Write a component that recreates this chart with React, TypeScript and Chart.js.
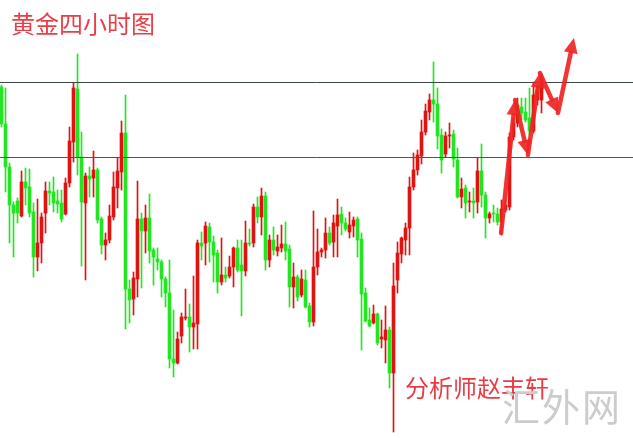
import React, { useEffect, useRef } from "react";
import { Chart, registerables } from "chart.js";

Chart.register(...registerables);

// Gold 4-hour candles (price units; the vertical axis is hidden)
const candleOpen = [
  351, 314, 271, 233, 237, 222, 256, 251, 226, 181,
  195, 225, 247, 246, 237, 235, 224, 255, 296, 349,
  281, 235, 262, 260, 268, 219, 193, 198, 221, 250,
  266, 305, 149, 139, 159, 219, 207, 220, 188, 179,
  176, 159, 145, 79, 75, 102, 120, 121, 111, 114,
  195, 195, 211, 196, 185, 156, 163, 162, 171, 190,
  173, 167, 195, 195, 231, 221, 242, 178, 198, 187,
  190, 194, 189, 151, 161, 143, 158, 132, 116, 171,
  186, 188, 205, 196, 212, 224, 215, 206, 212, 219,
  199, 145, 118, 115, 124, 99, 98, 108, 65, 158,
  184, 198, 210, 251, 268, 282, 306, 326, 338, 334,
  303, 284, 302, 304, 278, 241, 250, 236, 237, 236,
  267, 243, 220, 225, 224, 216, 228, 231, 301, 315,
  331, 326, 320, 307, 338, 338,
];
const candleHigh = [
  353, 350, 275, 236, 240, 267, 270, 269, 235, 239,
  225, 256, 256, 261, 248, 248, 260, 311, 355, 384,
  306, 265, 271, 287, 270, 221, 205, 233, 266, 280,
  317, 343, 158, 166, 257, 225, 233, 244, 190, 190,
  178, 161, 178, 128, 106, 125, 149, 134, 162, 198,
  206, 216, 215, 202, 188, 200, 171, 182, 191, 198,
  198, 217, 209, 234, 241, 250, 246, 203, 211, 203,
  213, 216, 193, 175, 163, 168, 168, 135, 227, 209,
  190, 220, 211, 223, 239, 231, 220, 226, 221, 221,
  205, 150, 130, 133, 125, 118, 132, 111, 175, 196,
  201, 215, 261, 285, 288, 318, 334, 344, 376, 350,
  309, 306, 315, 308, 290, 260, 253, 246, 250, 280,
  294, 246, 226, 233, 230, 238, 238, 305, 320, 340,
  340, 340, 350, 356, 353, 364,
];
const candleLow = [
  311, 246, 195, 181, 215, 221, 233, 221, 161, 167,
  175, 205, 233, 226, 225, 216, 223, 251, 276, 263,
  172, 158, 241, 241, 215, 184, 178, 195, 218, 230,
  248, 109, 115, 123, 141, 150, 185, 175, 153, 168,
  141, 131, 70, 61, 74, 95, 118, 86, 89, 89,
  178, 173, 176, 156, 145, 153, 156, 160, 151, 166,
  122, 162, 192, 191, 215, 203, 168, 171, 183, 182,
  186, 178, 131, 130, 137, 141, 130, 111, 112, 163,
  181, 180, 193, 181, 181, 203, 207, 200, 201, 181,
  88, 116, 111, 114, 93, 90, 75, 50, 6, 145,
  175, 183, 183, 248, 263, 274, 303, 318, 316, 289,
  265, 281, 290, 271, 240, 230, 220, 226, 220, 225,
  231, 200, 215, 216, 213, 203, 226, 228, 298, 311,
  318, 316, 303, 305, 333, 325,
];
const candleClose = [
  314, 271, 233, 225, 225, 256, 250, 225, 181, 195,
  221, 247, 245, 235, 234, 219, 255, 297, 350, 281,
  236, 262, 259, 268, 218, 193, 198, 222, 251, 267,
  305, 149, 138, 160, 219, 207, 220, 187, 181, 176,
  159, 145, 79, 75, 99, 121, 121, 111, 115, 195,
  192, 212, 196, 183, 156, 163, 160, 171, 190, 168,
  167, 195, 194, 231, 221, 242, 178, 198, 188, 191,
  194, 187, 151, 161, 141, 159, 131, 116, 171, 186,
  188, 205, 195, 215, 223, 215, 209, 213, 218, 198,
  144, 117, 112, 124, 95, 101, 108, 65, 152, 185,
  200, 210, 251, 268, 283, 306, 327, 338, 334, 302,
  278, 302, 303, 279, 241, 249, 235, 237, 235, 267,
  243, 220, 224, 224, 216, 229, 233, 301, 315, 333,
  325, 318, 307, 343, 348, 360,
];

// Horizontal levels (resistance above, support below)
const levelValues = [356, 281];
const levelColors = ["#3b4846", "#d41c1c"];

// Forecast zig-zag arrow path (bar position, price)
const arrowX = [124.9, 128.4, 131.6, 134.6, 139.1, 143.1];
const arrowY = [205, 338, 283, 365, 325, 400];

const titleText = "黄金四小时图";
const analystText = "分析师赵丰轩";
const watermarkText = "汇外网";

const UP = "#e01212";
const DOWN = "#22e622";

export default function App() {
  const ref = useRef<HTMLCanvasElement | null>(null);

  useEffect(() => {
    if (!ref.current) return;
    const idx = candleOpen.map((_, i) => i);
    const colors = idx.map((i) => (candleClose[i] >= candleOpen[i] ? UP : DOWN));

    const overlay = {
      id: "overlay",
      afterDatasetsDraw(chart: any) {
        const ctx = chart.ctx;
        const xs = chart.scales.x;
        const ys = chart.scales.y;
        const area = chart.chartArea;
        ctx.save();
        levelValues.forEach((v, k) => {
          const py = Math.round(ys.getPixelForValue(v)) + 0.5;
          ctx.strokeStyle = levelColors[k];
          ctx.lineWidth = 1;
          ctx.beginPath();
          ctx.moveTo(area.left, py);
          ctx.lineTo(area.right, py);
          ctx.stroke();
        });
        ctx.strokeStyle = "rgba(240,36,36,0.92)";
        ctx.fillStyle = "rgba(240,36,36,0.92)";
        ctx.lineWidth = 4.5;
        ctx.lineCap = "round";
        for (let k = 0; k < arrowX.length - 1; k++) {
          const x0 = xs.getPixelForValue(arrowX[k]);
          const y0 = ys.getPixelForValue(arrowY[k]);
          const x1 = xs.getPixelForValue(arrowX[k + 1]);
          const y1 = ys.getPixelForValue(arrowY[k + 1]);
          const ang = Math.atan2(y1 - y0, x1 - x0);
          const head = 15;
          const half = 7;
          const bx = x1 - Math.cos(ang) * head;
          const by = y1 - Math.sin(ang) * head;
          ctx.beginPath();
          ctx.moveTo(x0, y0);
          ctx.lineTo(bx, by);
          ctx.stroke();
          ctx.beginPath();
          ctx.moveTo(x1, y1);
          ctx.lineTo(bx + Math.cos(ang + Math.PI / 2) * half, by + Math.sin(ang + Math.PI / 2) * half);
          ctx.lineTo(bx + Math.cos(ang - Math.PI / 2) * half, by + Math.sin(ang - Math.PI / 2) * half);
          ctx.closePath();
          ctx.fill();
        }
        ctx.restore();
      },
    };

    const chart = new Chart(ref.current, {
      type: "bar",
      data: {
        datasets: [
          {
            label: "wick",
            data: idx.map((i) => ({ x: i, y: [candleLow[i], candleHigh[i]] })) as any,
            backgroundColor: colors,
            barThickness: 1,
            grouped: false,
            borderWidth: 0,
            order: 1,
          } as any,
          {
            label: "body",
            data: idx.map((i) => ({ x: i, y: [candleOpen[i], candleClose[i]] })) as any,
            backgroundColor: colors,
            barThickness: 3,
            minBarLength: 1,
            grouped: false,
            borderWidth: 0,
            order: 0,
          } as any,
        ],
      },
      options: {
        animation: false,
        responsive: false,
        maintainAspectRatio: false,
        layout: { padding: 0 },
        plugins: { legend: { display: false }, tooltip: { enabled: false }, title: { display: false } },
        scales: {
          x: { type: "linear", min: -0.375, max: 157.875, display: false, offset: false, grid: { display: false } },
          y: { type: "linear", min: 0, max: 438, display: false, grid: { display: false } },
        },
      },
      plugins: [overlay],
    });
    return () => chart.destroy();
  }, []);

  const cjk = '"Noto Sans CJK SC", "Noto Sans", sans-serif';
  return (
    <div style={{ position: "absolute", left: 0, top: 0, width: 633, height: 438, background: "#fff", overflow: "hidden" }}>
      <canvas ref={ref} width={633} height={438} style={{ display: "block", width: 633, height: 438 }} />
      <div style={{ position: "absolute", left: 11, top: 11, fontFamily: cjk, fontSize: 24, lineHeight: "24px", color: "#e8404a", whiteSpace: "nowrap" }}>
        {titleText}
      </div>
      <div style={{ position: "absolute", left: 405, top: 375, fontFamily: cjk, fontSize: 24, lineHeight: "24px", color: "#ea3a44", whiteSpace: "nowrap" }}>
        {analystText}
      </div>
      <div style={{ position: "absolute", left: 502, top: 386, fontFamily: cjk, fontSize: 38, lineHeight: "38px", letterSpacing: 2, color: "#cccccc", whiteSpace: "nowrap" }}>
        {watermarkText}
      </div>
    </div>
  );
}
